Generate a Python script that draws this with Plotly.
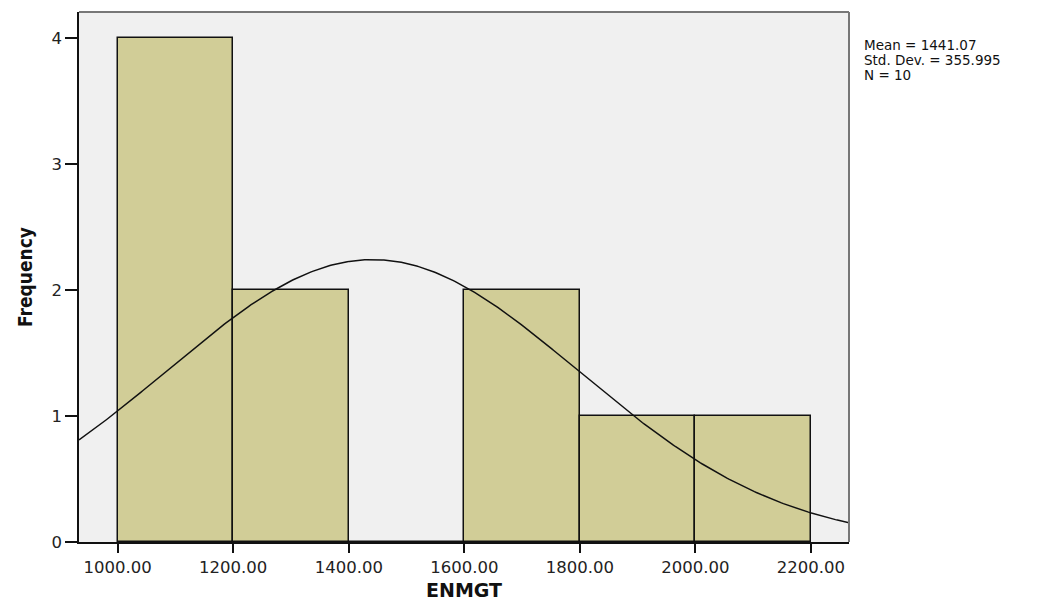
import numpy as np
import plotly.graph_objects as go

# ---- data ----
bin_starts = [1000, 1200, 1400, 1600, 1800, 2000]
bin_width = 200
counts = [4, 2, 0, 2, 1, 1]
x_ticks = [1000, 1200, 1400, 1600, 1800, 2000, 2200]
x_tick_labels = ["1000.00", "1200.00", "1400.00", "1600.00", "1800.00", "2000.00", "2200.00"]
y_ticks = [0, 1, 2, 3, 4]
stat_mean = 1441.07
stat_sd = 355.995
stat_n = 10
x_range = [933, 2266]
y_range = [0, 4.206]

bin_centers = [s + bin_width / 2 for s in bin_starts]

# fitted normal curve (from stated mean / sd), scaled to N * bin width
xs = np.linspace(x_range[0], x_range[1], 400)
ys = stat_n * bin_width / (stat_sd * np.sqrt(2 * np.pi)) * np.exp(-0.5 * ((xs - stat_mean) / stat_sd) ** 2)

fig = go.Figure()
fig.add_trace(go.Bar(
    x=bin_centers, y=counts, width=[bin_width] * len(counts),
    marker=dict(color="#d1cd97", line=dict(color="#111111", width=1.5)),
    hoverinfo="x+y", showlegend=False,
))
fig.add_trace(go.Scatter(
    x=xs, y=ys, mode="lines", line=dict(color="#111111", width=1.5),
    showlegend=False, hoverinfo="skip",
))

tick_font = dict(family="DejaVu Sans", size=16.5, color="#222222")
stat_font = dict(family="DejaVu Sans", size=13.5, color="#111111")

# page body has ~7px default margin; figure size/margins compensate for it
fig.update_layout(
    width=1029, height=593,
    margin=dict(l=71, r=188, t=4, b=59),
    paper_bgcolor="white",
    plot_bgcolor="#f0f0f0",
    bargap=0,
    xaxis=dict(
        range=x_range, tickvals=x_ticks, ticktext=x_tick_labels,
        showgrid=False, zeroline=False,
        showline=True, linecolor="#111111", linewidth=1.5,
        ticks="outside", ticklen=9, tickwidth=1.5, tickcolor="#111111",
        tickfont=tick_font,
    ),
    yaxis=dict(
        range=y_range, tickvals=y_ticks,
        showgrid=False, zeroline=False,
        showline=True, linecolor="#111111", linewidth=1.5,
        ticks="outside", ticklen=12, tickwidth=1.5, tickcolor="#111111",
        tickfont=tick_font,
    ),
    shapes=[
        dict(type="line", xref="paper", yref="paper", x0=0, x1=1, y0=1, y1=1,
             line=dict(color="#777777", width=2)),
        dict(type="line", xref="paper", yref="paper", x0=1, x1=1, y0=0, y1=1,
             line=dict(color="#777777", width=2)),
    ],
    annotations=[
        dict(text="<b>ENMGT</b>", xref="paper", yref="paper", x=0.5, y=0,
             xanchor="center", yanchor="middle", yshift=-48, showarrow=False,
             font=dict(family="DejaVu Sans", size=19, color="#111111")),
        dict(text="<b>Frequency</b>", xref="paper", yref="paper", x=0, y=0.5,
             xanchor="center", yanchor="middle", xshift=-54, textangle=-90, showarrow=False,
             font=dict(family="Liberation Sans Narrow, DejaVu Sans Condensed, Liberation Sans", size=19, color="#111111")),
        dict(text=f"Mean = {stat_mean:.2f}", xref="paper", yref="paper", x=1, y=1,
             xanchor="left", yanchor="middle", xshift=13, yshift=-33, showarrow=False,
             font=stat_font),
        dict(text=f"Std. Dev. = {stat_sd:.3f}", xref="paper", yref="paper", x=1, y=1,
             xanchor="left", yanchor="middle", xshift=13, yshift=-48, showarrow=False,
             font=stat_font),
        dict(text=f"N = {stat_n}", xref="paper", yref="paper", x=1, y=1,
             xanchor="left", yanchor="middle", xshift=13, yshift=-63, showarrow=False,
             font=stat_font),
    ],
)

fig.write_html("out.html")
